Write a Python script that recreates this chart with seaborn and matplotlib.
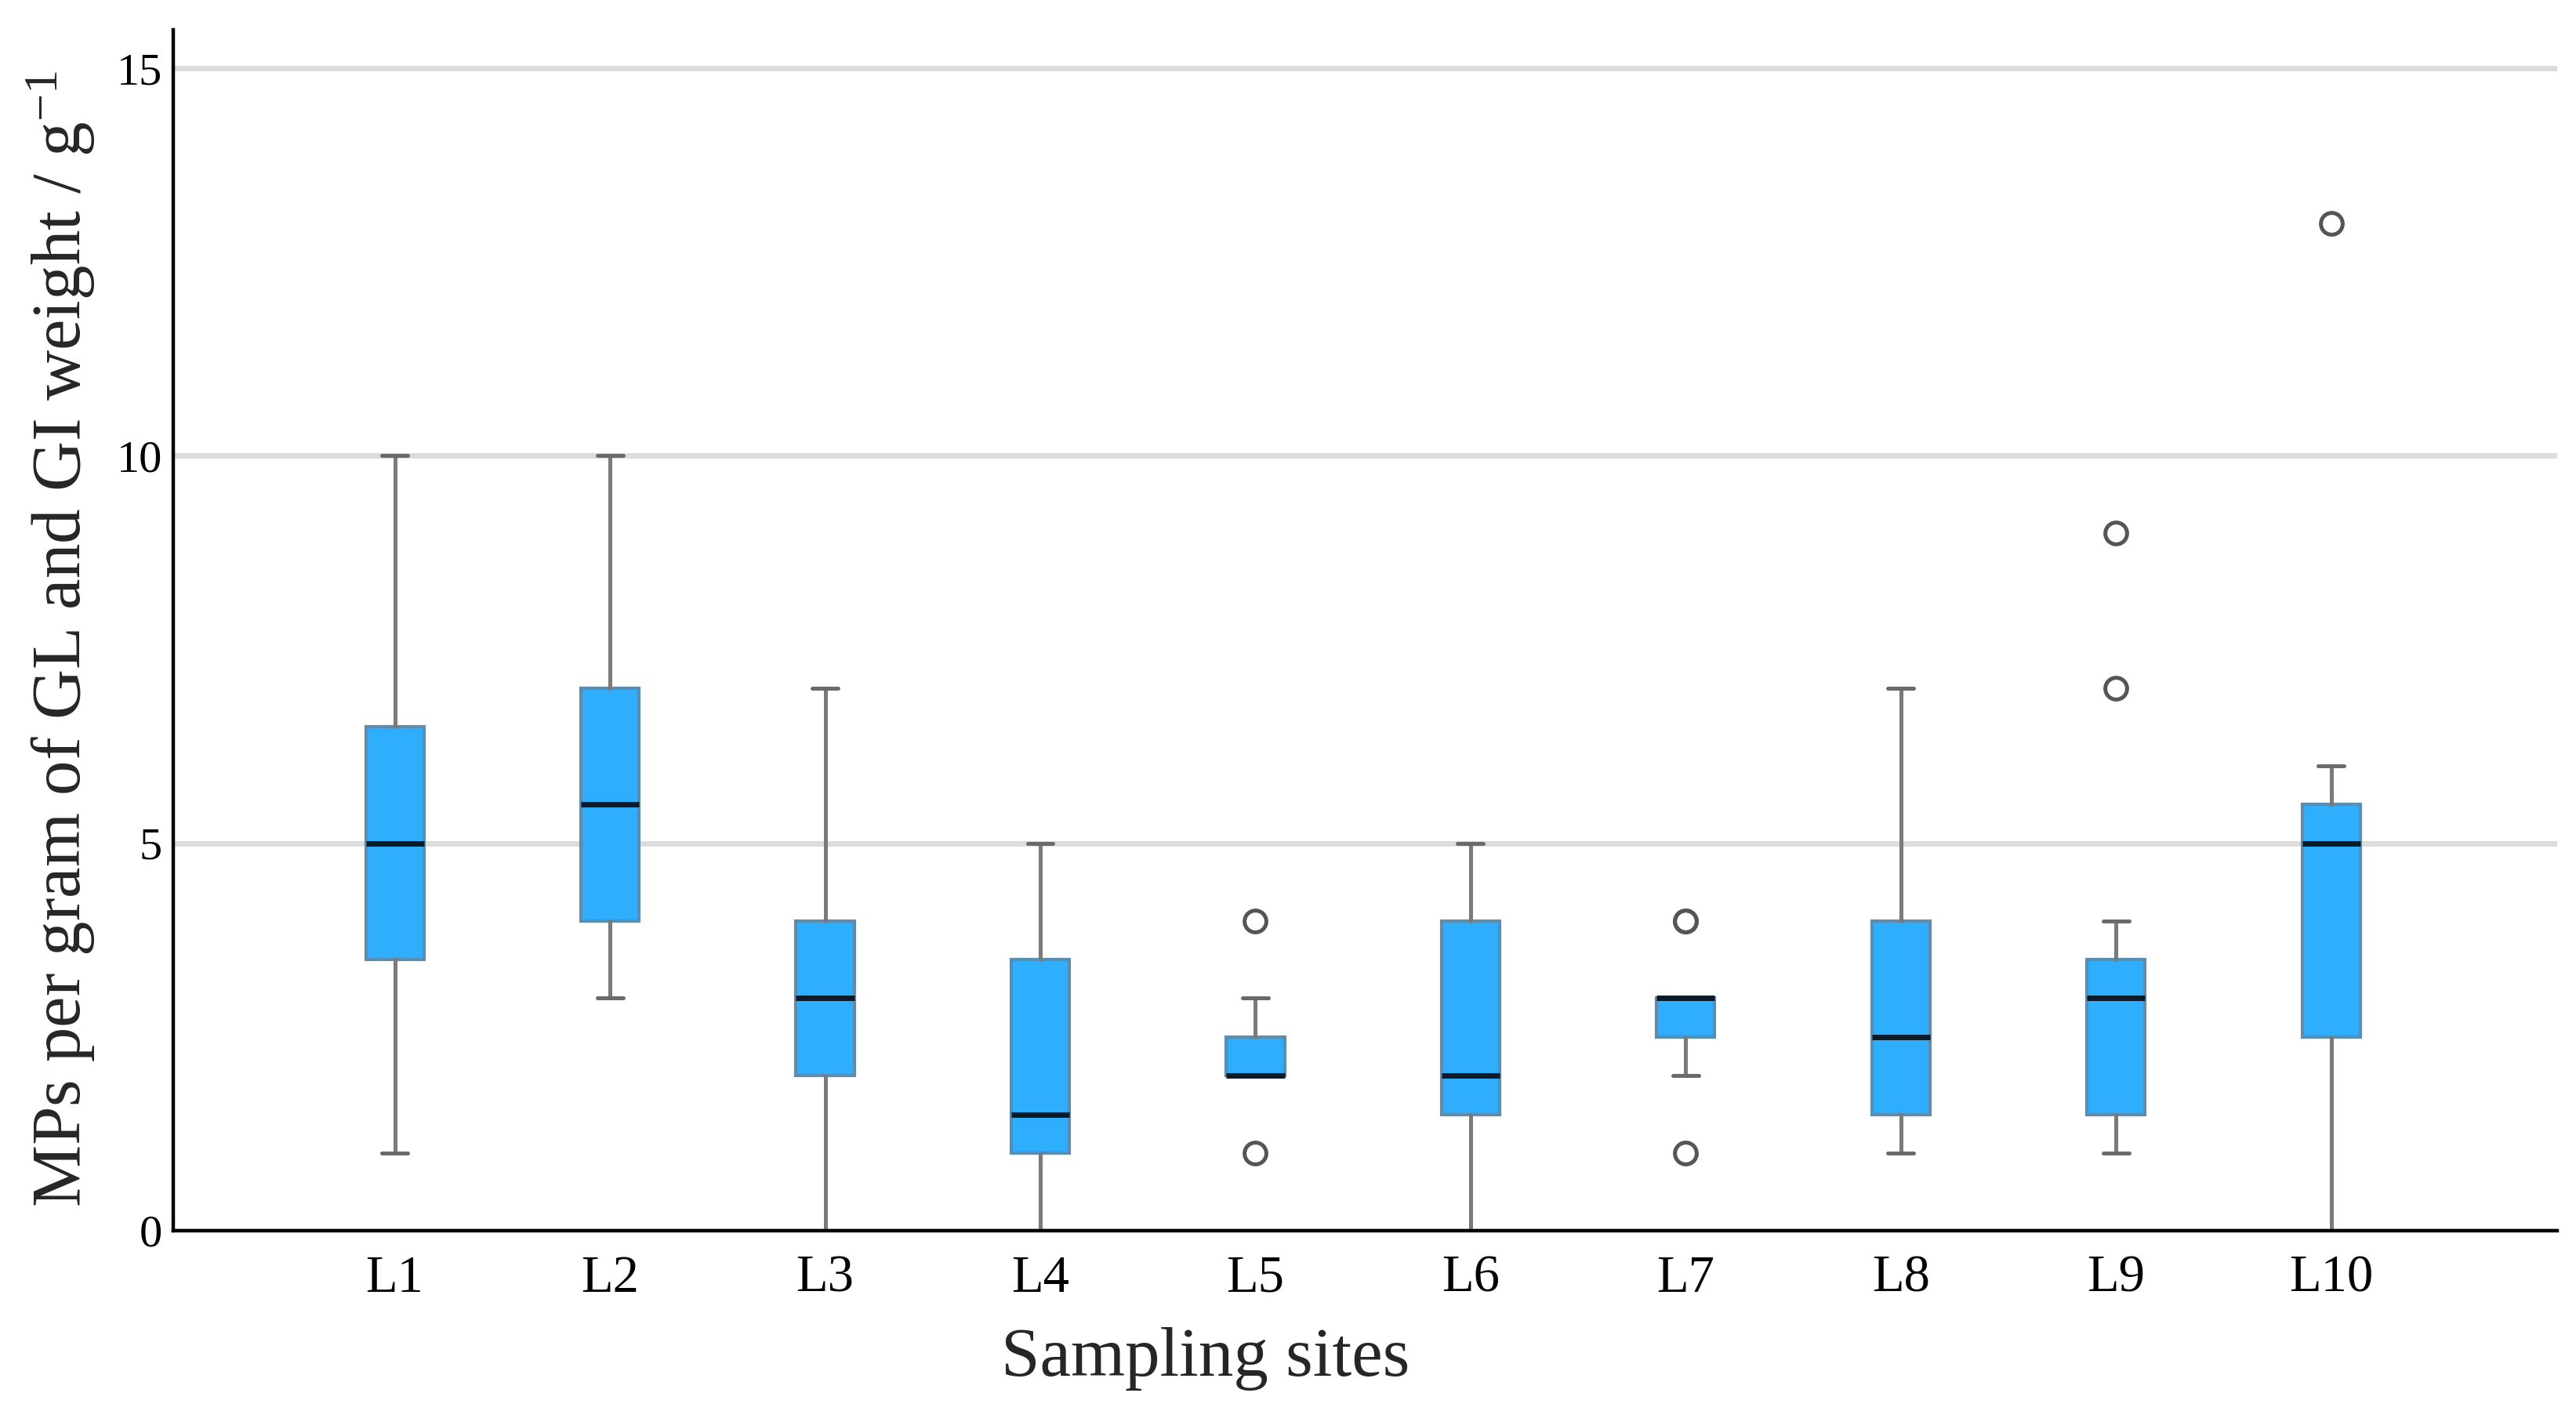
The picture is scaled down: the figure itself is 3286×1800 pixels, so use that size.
import numpy as np
import pandas as pd
import matplotlib
matplotlib.use('Agg')
import matplotlib.pyplot as plt
import seaborn as sns

# Box statistics (MPs per gram of GL and GI weight)
sites = ['L1', 'L2', 'L3', 'L4', 'L5', 'L6', 'L7', 'L8', 'L9', 'L10']
whisker_low = [1, 3, 0, 0, 2, 0, 2, 1, 1, 0]
q1 = [3.5, 4, 2, 1, 2, 1.5, 2.5, 1.5, 1.5, 2.5]
median = [5, 5.5, 3, 1.5, 2, 2, 3, 2.5, 3, 5]
q3 = [6.5, 7, 4, 3.5, 2.5, 4, 3, 4, 3.5, 5.5]
whisker_high = [10, 10, 7, 5, 3, 5, 3, 7, 4, 6]
outliers = [[], [], [], [], [4, 1], [], [4, 4, 1], [], [7, 9], [13]]

yticks = [0, 5, 10, 15]

df = pd.DataFrame({'site': sites, 'whislo': whisker_low, 'q1': q1,
                   'med': median, 'q3': q3, 'whishi': whisker_high})
stats = []
for i, row in df.iterrows():
    stats.append({'label': row['site'], 'whislo': row['whislo'], 'q1': row['q1'],
                  'med': row['med'], 'q3': row['q3'], 'whishi': row['whishi'],
                  'fliers': np.array(outliers[i], dtype=float)})

sns.set_style('white')
plt.rcParams['font.family'] = ['Liberation Serif', 'DejaVu Serif']
plt.rcParams['mathtext.fontset'] = 'custom'
plt.rcParams['mathtext.rm'] = 'Liberation Serif'

fig = plt.figure(figsize=(16.435, 9.0), dpi=200)
ax = fig.add_axes([0.0672, 0.1278, 0.9252, 0.8512])

ax.bxp(stats, positions=range(len(sites)), widths=0.27, capwidths=0.12,
       patch_artist=True, showfliers=True,
       boxprops=dict(facecolor='#2FAEFD', edgecolor='#5b8db0', linewidth=1.5),
       medianprops=dict(color='#0b1a26', linewidth=2.5, solid_capstyle='butt'),
       whiskerprops=dict(color='#7a7a7a', linewidth=1.8),
       capprops=dict(color='#6a6a6a', linewidth=1.8),
       flierprops=dict(marker='o', markerfacecolor='none', markeredgecolor='#555555',
                       markersize=10, markeredgewidth=1.8),
       zorder=3)

ax.set_xlim(-1.03, 10.05)
ax.set_ylim(0, 15.5)
ax.set_yticks(yticks)
ax.set_xticks(range(len(sites)))
ax.set_xticklabels(sites)
ax.yaxis.grid(True, color='#dcdcdc', linewidth=2.5, zorder=0)
ax.xaxis.grid(False)
ax.set_axisbelow(True)

sns.despine(ax=ax, top=True, right=True)
for s in ['left', 'bottom']:
    ax.spines[s].set_color('black')
    ax.spines[s].set_linewidth(1.6)
    ax.spines[s].set_zorder(5)

ax.tick_params(axis='x', length=0, pad=11, labelsize=24, colors='black')
ax.tick_params(axis='y', length=0, pad=5, labelsize=21, colors='black')

ax.set_xlabel('Sampling sites', fontsize=32)
ax.xaxis.set_label_coords(0.433, -0.107)
ax.xaxis.label.set_va('center')
ax.set_ylabel('MPs per gram of GL and GI weight / g$\\mathregular{^{-1}}$', fontsize=32)
ax.yaxis.set_label_coords(-0.047, 0.493)
ax.yaxis.label.set_va('center')

plt.savefig('out.png', dpi=200)
